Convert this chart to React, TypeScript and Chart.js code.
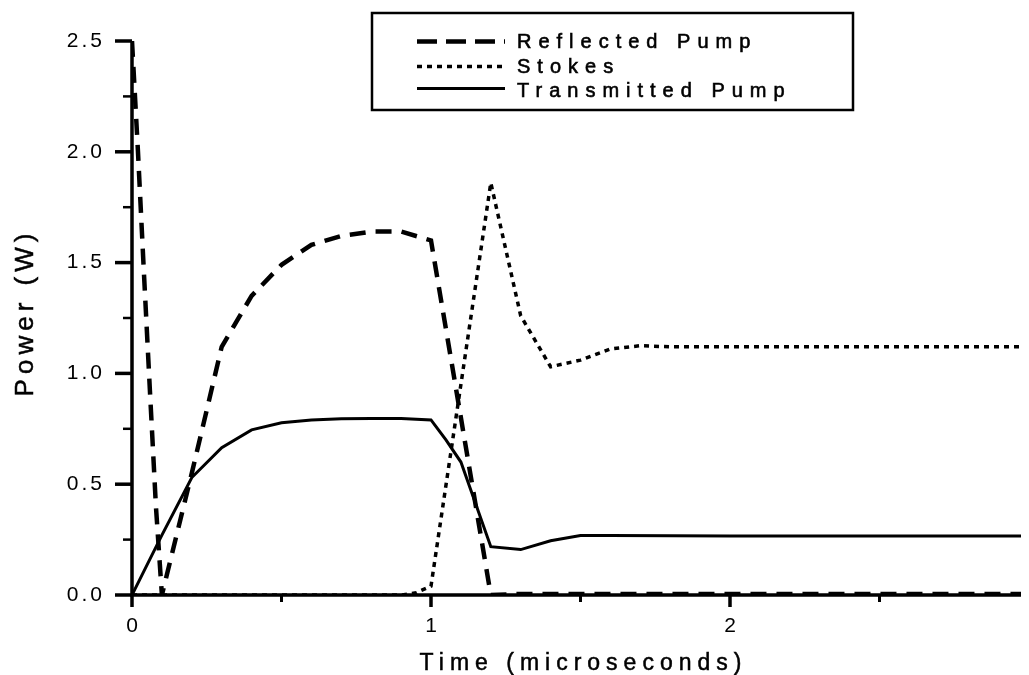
import React, { useEffect, useRef } from "react";
import { Chart, registerables } from "chart.js";

Chart.register(...registerables);

// ---- data ----
const reflectedTime = [0, 0.02, 0.04, 0.06, 0.08, 0.1, 0.2, 0.3, 0.4, 0.5, 0.6, 0.7, 0.8, 0.9, 1.0, 1.1, 1.2, 1.3, 1.5, 2.0, 2.5, 3.0];
const reflectedPower = [2.5, 2.0, 1.45, 0.92, 0.4, 0, 0.55, 1.12, 1.35, 1.49, 1.58, 1.62, 1.64, 1.64, 1.6, 0.8, 0, 0.005, 0.005, 0.005, 0.005, 0.005];

const stokesTime = [0, 0.9, 0.95, 1.0, 1.1, 1.2, 1.3, 1.4, 1.5, 1.6, 1.7, 1.8, 1.9, 2.0, 2.5, 3.0];
const stokesPower = [0, 0, 0.01, 0.04, 0.95, 1.86, 1.26, 1.03, 1.06, 1.11, 1.125, 1.12, 1.12, 1.12, 1.12, 1.12];

const transTime = [0, 0.1, 0.2, 0.3, 0.4, 0.5, 0.6, 0.7, 0.8, 0.9, 1.0, 1.05, 1.1, 1.2, 1.3, 1.4, 1.5, 1.6, 2.0, 2.5, 3.0];
const transPower = [0, 0.27, 0.53, 0.665, 0.745, 0.777, 0.79, 0.795, 0.797, 0.797, 0.79, 0.7, 0.6, 0.218, 0.205, 0.245, 0.268, 0.268, 0.266, 0.266, 0.266];

const xTickValues = [0, 1, 2, 3];
const seriesLabels = ["Reflected Pump", "Stokes", "Transmitted Pump"];
const xTitle = "Time (microseconds)";
const yTitle = "Power (W)";

const FONT = "'Liberation Sans', Arial, Helvetica, sans-serif";

const pts = (xs: number[], ys: number[]) => xs.map((x, i) => ({ x, y: ys[i] }));

const decorPlugin = {
  id: "decor",
  beforeDraw(chart: any) {
    chart.ctx.letterSpacing = "3px";
  },
  afterDraw(chart: any) {
    const ctx = chart.ctx as CanvasRenderingContext2D;
    const { left, right, top, bottom } = chart.chartArea;
    const xs = chart.scales.x;
    const ys = chart.scales.y;
    ctx.save();
    (ctx as any).letterSpacing = "0px";
    ctx.strokeStyle = "#000";
    ctx.fillStyle = "#000";
    // axis lines
    ctx.lineWidth = 3.5;
    ctx.beginPath();
    ctx.moveTo(left, top);
    ctx.lineTo(left, bottom);
    ctx.moveTo(left - 1.75, bottom);
    ctx.lineTo(chart.width, bottom);
    ctx.stroke();
    // y ticks
    for (let i = 0; i <= 10; i++) {
      const v = i * 0.25;
      const y = ys.getPixelForValue(v);
      const major = i % 2 === 0;
      ctx.lineWidth = major ? 3.5 : 2.5;
      ctx.beginPath();
      ctx.moveTo(left, y);
      ctx.lineTo(left - (major ? 17 : 9), y);
      ctx.stroke();
    }
    // x ticks
    for (let i = 0; i <= 6; i++) {
      const v = i * 0.5;
      const x = xs.getPixelForValue(v);
      const major = i % 2 === 0;
      ctx.lineWidth = major ? 3.5 : 3;
      ctx.beginPath();
      ctx.moveTo(x, bottom);
      ctx.lineTo(x, bottom + (major ? 12 : 7));
      ctx.stroke();
    }
    // x tick labels
    ctx.font = `21px ${FONT}`;
    ctx.textBaseline = "alphabetic";
    ctx.textAlign = "center";
    xTickValues.forEach((v) => {
      ctx.fillText(String(v), xs.getPixelForValue(v), bottom + 37);
    });
    ctx.textAlign = "left";
    ctx.lineWidth = 0.5;
    // x title
    ctx.font = `23px ${FONT}`;
    (ctx as any).letterSpacing = "6px";
    const wx = ctx.measureText(xTitle).width - 6;
    ctx.fillText(xTitle, (left + right) / 2 - wx / 2, 662);
    ctx.strokeText(xTitle, (left + right) / 2 - wx / 2, 662);
    // y title
    ctx.font = `26px ${FONT}`;
    (ctx as any).letterSpacing = "5px";
    const wy = ctx.measureText(yTitle).width - 5;
    ctx.save();
    ctx.translate(25, 307);
    ctx.rotate(-Math.PI / 2);
    ctx.fillText(yTitle, -wy / 2, 0);
    ctx.strokeText(yTitle, -wy / 2, 0);
    ctx.restore();
    // legend
    (ctx as any).letterSpacing = "0px";
    ctx.lineWidth = 2.5;
    ctx.setLineDash([]);
    ctx.strokeRect(364, 5, 481, 97);
    const rowsText = [40, 65, 89];
    const rowsLine = [33.5, 58.5, 80.5];
    chart.data.datasets.forEach((ds: any, i: number) => {
      ctx.save();
      ctx.lineWidth = ds.borderWidth;
      ctx.setLineDash(i === 0 ? [20, 9] : ds.borderDash || []);
      ctx.beginPath();
      ctx.moveTo(409, rowsLine[i]);
      ctx.lineTo(497, rowsLine[i]);
      ctx.stroke();
      ctx.restore();
      ctx.font = `20px ${FONT}`;
      (ctx as any).letterSpacing = "7px";
      ctx.textBaseline = "alphabetic";
      ctx.lineWidth = 0.6;
      ctx.fillText(ds.label, 509, rowsText[i]);
      ctx.strokeText(ds.label, 509, rowsText[i]);
      (ctx as any).letterSpacing = "0px";
    });
    ctx.restore();
  },
};

export default function App() {
  const ref = useRef<HTMLCanvasElement>(null);
  useEffect(() => {
    document.documentElement.style.overflow = "hidden";
    const canvas = ref.current!;
    const chart = new Chart(canvas, {
      type: "line",
      data: {
        datasets: [
          {
            label: seriesLabels[0],
            data: pts(reflectedTime, reflectedPower),
            borderColor: "#000",
            borderWidth: 4.5,
            borderDash: [16, 10],
            pointRadius: 0,
            tension: 0,
            fill: false,
          },
          {
            label: seriesLabels[1],
            data: pts(stokesTime, stokesPower),
            borderColor: "#000",
            borderWidth: 3.5,
            borderDash: [5, 5],
            pointRadius: 0,
            tension: 0,
            fill: false,
          },
          {
            label: seriesLabels[2],
            data: pts(transTime, transPower),
            borderColor: "#000",
            borderWidth: 3,
            pointRadius: 0,
            tension: 0,
            fill: false,
          },
        ],
      },
      options: {
        animation: false,
        responsive: false,
        devicePixelRatio: 1,
        layout: { padding: { top: 33, right: 0, left: 0, bottom: 0 } },
        plugins: { legend: { display: false }, tooltip: { enabled: false } },
        scales: {
          x: {
            type: "linear",
            min: 0,
            max: 3,
            afterFit: (s: any) => {
              s.height = 80;
            },
            ticks: { display: false, stepSize: 1 },
            grid: { display: false },
            border: { display: false },
          },
          y: {
            type: "linear",
            min: 0,
            max: 2.5,
            afterFit: (s: any) => {
              s.width = 124;
            },
            ticks: {
              stepSize: 0.5,
              color: "#000",
              padding: 10,
              font: { family: FONT, size: 21 },
              callback: (v: any) => Number(v).toFixed(1),
            },
            grid: { display: true, drawOnChartArea: false, drawTicks: true, tickLength: 17, color: "rgba(0,0,0,0)" },
            border: { display: false },
          },
        },
      },
      plugins: [decorPlugin],
    } as any);
    return () => chart.destroy();
  }, []);
  return (
    <div style={{ width: 1021, height: 667 }}>
      <canvas ref={ref} width={1021} height={667} style={{ display: "block", width: 1021, height: 667 }} />
    </div>
  );
}
